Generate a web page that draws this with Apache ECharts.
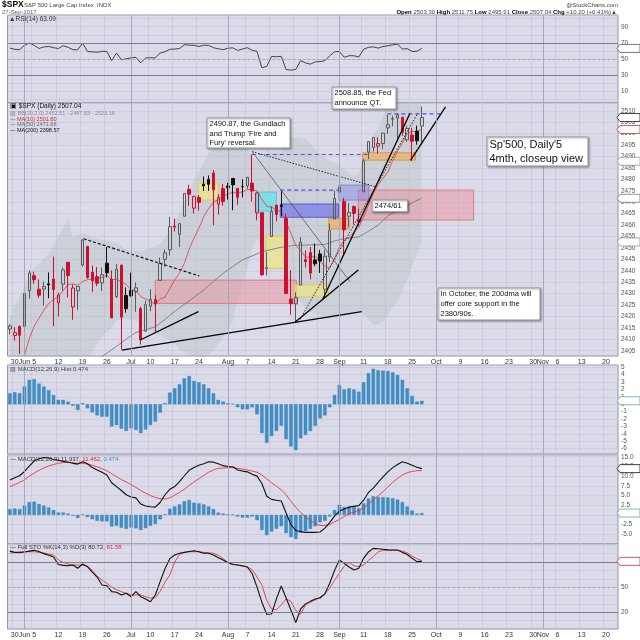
<!DOCTYPE html>
<html>
<head>
<meta charset="utf-8">
<script src="https://cdn.jsdelivr.net/npm/echarts@6/dist/echarts.min.js"></script>
<style>
html,body{margin:0;padding:0;background:#ffffff;}
#chart{width:640px;height:640px;}
</style>
</head>
<body>
<div id="chart"></div>
<script>
// ---------------- DATA ----------------
const dates = ['05-26','05-30','05-31',
 '06-01','06-02','06-05','06-06','06-07','06-08','06-09','06-12','06-13','06-14','06-15','06-16','06-19','06-20','06-21','06-22','06-23','06-26','06-27','06-28','06-29','06-30',
 '07-03','07-05','07-06','07-07','07-10','07-11','07-12','07-13','07-14','07-17','07-18','07-19','07-20','07-21','07-24','07-25','07-26','07-27','07-28','07-31',
 '08-01','08-02','08-03','08-04','08-07','08-08','08-09','08-10','08-11','08-14','08-15','08-16','08-17','08-18','08-21','08-22','08-23','08-24','08-25','08-28','08-29','08-30','08-31',
 '09-01','09-05','09-06','09-07','09-08','09-11','09-12','09-13','09-14','09-15','09-18','09-19','09-20','09-21','09-22','09-25','09-26','09-27','09-28','09-29',
 '10-02','10-03','10-04','10-05','10-06','10-09','10-10','10-11','10-12','10-13','10-16','10-17','10-18','10-19','10-20','10-23','10-24','10-25','10-26','10-27','10-30','10-31',
 '11-01','11-02','11-03','11-06','11-07','11-08','11-09','11-10','11-13','11-14','11-15','11-16','11-17','11-20','11-21','11-22'];

const tickLabels = [['05-30','30'],['06-01','Jun'],['06-05','5'],['06-12','12'],['06-19','19'],['06-26','26'],
 ['07-03','Jul'],['07-10','10'],['07-17','17'],['07-24','24'],['08-01','Aug'],['08-07','7'],['08-14','14'],['08-21','21'],['08-28','28'],
 ['09-01','Sep'],['09-11','11'],['09-18','18'],['09-25','25'],['10-02','Oct'],['10-09','9'],['10-16','16'],['10-23','23'],['10-30','30'],
 ['11-01','Nov'],['11-06','6'],['11-13','13'],['11-20','20']];
const monthStarts = ['06-01','07-03','08-01','09-01','10-02','11-01'];

const prevClose0 = 2415.07;
const opens = [2414.50,2411.67,2415.63,
 2415.65,2431.28,2437.83,2431.92,2432.03,2434.27,2436.39,2425.88,2434.15,2443.75,2424.14,2431.24,2442.55,2450.66,2439.31,2437.40,2434.65,2443.32,2436.34,2428.70,2442.38,2429.20,
 2431.39,2430.78,2423.44,2413.52,2424.51,2427.35,2435.75,2444.99,2449.16,2459.50,2455.88,2463.85,2475.56,2467.40,2472.04,2477.88,2479.97,2482.76,2469.12,2475.94,
 2477.10,2480.38,2476.03,2476.88,2477.14,2478.35,2465.35,2465.38,2441.04,2454.96,2468.66,2468.63,2462.95,2427.64,2425.50,2433.75,2444.88,2447.91,2444.72,2447.35,2431.94,2446.06,2462.65,
 2474.42,2470.35,2463.83,2468.06,2462.25,2474.52,2491.94,2493.89,2494.56,2495.67,2502.51,2506.29,2506.84,2507.16,2497.26,2499.39,2501.04,2503.30];
const highs = [2416.68,2415.26,2415.99,
 2430.06,2440.23,2439.55,2436.21,2435.28,2439.27,2446.20,2430.38,2441.49,2443.75,2433.95,2433.15,2453.82,2450.66,2442.23,2441.62,2441.40,2450.42,2440.15,2442.97,2442.73,2432.71,
 2439.17,2434.90,2424.28,2426.92,2432.00,2429.30,2445.76,2449.32,2463.54,2462.82,2460.92,2473.83,2477.62,2472.54,2473.10,2481.24,2481.69,2484.04,2473.53,2477.96,
 2478.51,2480.38,2476.03,2480.00,2480.95,2490.87,2474.41,2465.38,2448.09,2468.22,2468.90,2474.93,2465.02,2440.27,2430.58,2454.77,2448.91,2450.39,2451.95,2449.12,2449.19,2460.61,2475.01,
 2480.38,2471.97,2469.64,2468.62,2467.11,2488.95,2496.77,2498.37,2498.43,2500.23,2508.32,2507.84,2508.85,2507.16,2503.47,2502.54,2503.51,2511.75];
const lows = [2412.20,2409.43,2403.59,
 2413.54,2427.71,2434.32,2428.12,2424.75,2427.94,2415.70,2419.97,2431.28,2428.34,2418.53,2422.88,2441.79,2436.60,2430.74,2433.27,2431.11,2437.03,2419.38,2428.02,2405.70,2421.65,
 2428.69,2422.05,2407.70,2413.52,2422.27,2412.79,2435.75,2441.69,2446.69,2457.16,2450.34,2463.85,2468.43,2465.06,2466.32,2474.91,2474.94,2459.93,2464.66,2468.53,
 2471.14,2466.48,2468.85,2472.08,2475.88,2470.32,2462.08,2437.75,2437.85,2454.96,2461.61,2463.86,2430.01,2420.69,2417.35,2433.67,2441.42,2436.19,2441.96,2439.03,2428.20,2443.77,2462.65,
 2473.85,2446.55,2459.20,2460.29,2459.40,2474.52,2488.87,2492.14,2491.35,2493.16,2499.92,2503.19,2496.67,2499.00,2496.54,2488.03,2495.12,2495.91];
const closes = [2415.82,2412.91,2411.80,
 2430.06,2439.07,2436.10,2429.33,2433.14,2433.79,2431.77,2429.39,2440.35,2437.92,2432.46,2433.15,2453.46,2437.03,2435.61,2434.50,2438.30,2439.07,2419.38,2440.69,2419.70,2423.41,
 2429.01,2432.54,2409.75,2425.18,2427.43,2425.53,2443.25,2447.83,2459.27,2459.14,2460.61,2473.83,2473.45,2472.54,2469.91,2477.13,2477.83,2475.42,2472.10,2470.30,
 2476.35,2477.57,2472.16,2476.83,2480.91,2474.92,2474.02,2438.21,2441.32,2465.84,2464.61,2468.11,2430.01,2425.55,2428.37,2452.51,2444.04,2438.97,2443.05,2444.24,2446.30,2457.59,2471.65,
 2476.55,2457.85,2465.54,2465.10,2461.43,2488.11,2496.48,2498.37,2495.62,2500.23,2503.87,2506.65,2508.24,2500.60,2502.22,2496.66,2496.84,2507.04];

const ma10 = [2393.5,2394.6,2395.7,2403.0,2410.3,2415.7,2419.2,2422.7,2425.7,2427.4,
 2428.7,2431.4,2434.0,2434.2,2433.6,2435.3,2436.1,2436.4,2436.5,2437.1,
 2438.1,2436.0,2436.3,2435.1,2434.1,2431.7,2431.3,2428.7,2427.7,2426.6,
 2425.3,2427.7,2428.4,2432.3,2435.9,2439.1,2443.2,2449.5,2454.3,2458.6,
 2463.7,2467.2,2469.9,2471.2,2472.3,2473.8,2474.2,2474.1,2474.5,2475.6,
 2475.4,2475.0,2471.3,2468.2,2467.8,2466.7,2465.7,2461.5,2456.4,2451.1,
 2448.9,2445.9,2446.0,2446.2,2444.0,2442.1,2441.1,2445.3,2450.4,2453.4,
 2454.7,2456.8,2459.0,2463.5,2468.7,2473.9,2477.7,2480.5,2483.2,2488.1,
 2492.3,2495.9,2500.0,2500.9,2501.0,2501.8];
const ma50 = [2385,2386,2387,2388,2389,2390,2391,2392,2393,2394,
 2395,2396,2396.8,2397.6,2398.4,2399.2,2400,2400.8,2401.6,2402.4,
 2403.9,2405.4,2406.9,2408.5,2410,2411.6,2413,2413.6,2414.2,2414.8,
 2415.5,2417,2418.7,2420.5,2422.2,2423.8,2425.3,2426.8,2428.4,2430,
 2431.6,2433.5,2435.3,2437.1,2438.9,2440.4,2441.8,2443.3,2444.7,2445.6,
 2446.5,2447.4,2448.3,2448.8,2449.3,2449.8,2450.3,2450.6,2450.9,2451.2,
 2451.2,2451.2,2451.3,2451.3,2451.4,2451.5,2452.3,2453,2453.6,2454,
 2454.3,2454.5,2454.9,2456,2457.3,2458.6,2460,2462,2464,2465.2,
 2466.3,2467.5,2468.6,2469.7,2470.8,2471.7];
const bbUpper = [2419.6,2424.8,2427.9,2433.0,2438.5,2441.3,2442.8,2445.6,2447.3,2451.2,
 2455.1,2459.0,2462.9,2454.6,2456.0,2456.5,2455.7,2454.6,2454.1,2453.3,
 2453.4,2452.7,2452.2,2450.7,2448.9,2448.5,2448.7,2448.6,2449.1,2449.9,
 2450.7,2451.9,2454.4,2457.7,2462.0,2465.4,2470.3,2475.1,2480.0,2483.6,
 2487.5,2491.5,2493.2,2495.8,2497.1,2498.5,2499.7,2495.8,2494.4,2493.1,
 2489.6,2488.1,2490.6,2492.3,2492.1,2492.3,2492.0,2495.8,2498.5,2498.4,
 2498.2,2497.5,2495.7,2493.2,2490.9,2489.4,2487.9,2487.4,2486.4,2484.3,
 2482.8,2481.4,2482.5,2488.9,2494.4,2499.4,2502.4,2507.9,2512.8,2517.8,
 2520.5,2521.4,2522.5,2522.2,2522.9,2523.2];
const bbLower = [2367.6,2364.8,2363.9,2363.0,2362.5,2363.3,2364.8,2365.6,2367.3,2367.2,
 2367.1,2367.0,2366.9,2382.6,2388.0,2394.5,2399.7,2404.6,2408.1,2411.3,
 2413.4,2414.7,2418.2,2418.7,2418.9,2418.5,2418.7,2416.6,2415.1,2413.9,
 2412.7,2411.9,2410.4,2409.7,2408.0,2405.4,2404.3,2403.1,2402.0,2401.6,
 2401.5,2403.5,2405.2,2407.8,2411.1,2414.5,2417.7,2427.8,2434.4,2441.1,
 2449.6,2454.1,2450.6,2447.1,2448.1,2448.3,2448.0,2439.8,2432.5,2428.4,
 2426.2,2423.5,2421.7,2421.2,2420.9,2419.4,2418.9,2419.4,2420.4,2420.3,
 2420.8,2421.4,2422.5,2420.9,2418.4,2416.6,2416.4,2417.9,2420.8,2423.8,
 2426.5,2431.4,2436.5,2442.2,2446.9,2452.6];

const rsi = [63.5,62,61.5,67,69.7,67,63,65,65.5,64,
 63,66.4,64.5,61.5,61.5,69.7,59.4,58.8,58.4,59.5,
 59.4,48,57.4,49.2,50.1,51.5,52.1,45.2,51.3,51.6,
 51.3,57.4,59,62,62.3,63,67.6,67.2,66.9,65.5,
 67,66.8,64,62.7,61.5,63.4,63.8,60.6,62.4,64,
 60.8,59.4,39,41,53.3,52.8,53.3,37,36.2,37,
 48,45.2,43.6,46.4,46.8,48,54,59,59.4,52.1,
 54.1,54,52.5,62,64.5,65,63.5,65.5,66.4,67.5,
 68.4,62.3,62.8,59.4,59.5,63.09];

const macd = [9.0,9.6,10.1,11.2,12.6,13.9,14.5,14.8,14.7,14.3,
 14.1,13.8,13.6,13.3,13.1,13.7,13.2,12.2,11.6,11.0,
 10.3,8.3,7.3,6.3,5.2,4.6,4.4,2.8,2.3,2.1,
 2.0,3.2,5.2,6.6,7.3,8.6,10.1,11.5,12.2,12.8,
 13.2,13.7,13.6,13.2,12.7,12.5,12.4,11.6,11.3,11.1,
 10.5,10.0,8.1,4.8,4.0,3.8,3.6,0.5,-2.5,-4.0,
 -4.3,-4.5,-4.5,-4.5,-4.4,-3.4,-2.0,-0.3,1.0,1.5,
 2.0,2.2,2.4,3.8,5.8,6.9,8.4,9.8,11.1,12.2,
 13.0,13.7,13.3,12.8,12.3,11.937];
const macdSignal = [7.3,7.8,8.4,9.0,10.0,10.8,11.5,12.1,12.6,13.0,
 13.3,13.5,13.6,13.5,13.3,13.3,13.1,12.8,12.4,11.9,
 11.4,10.6,9.9,9.1,8.5,7.8,7.1,6.3,5.6,5.0,
 4.5,4.2,4.1,4.4,5.1,5.8,6.6,7.6,8.5,9.3,
 10.2,11.0,11.6,12.0,12.1,12.2,12.2,12.0,11.8,11.6,
 11.3,11.0,10.3,9.3,8.3,7.4,6.5,5.2,3.5,2.0,
 0.6,-0.5,-1.5,-2.2,-2.7,-2.7,-2.5,-1.8,-1.2,-0.4,
 0.3,0.7,1.2,1.8,2.8,3.9,4.9,6.0,7.2,8.4,
 9.4,10.3,10.9,11.2,11.4,11.462];
const macdHist = [1.49,1.62,1.5,2.4,3.3,3.4,2.8,2.4,1.9,1.26,
 0.6,0.6,0.36,-0.2,-0.77,0.14,-0.54,-1.1,-1.5,-1.67,
 -1.67,-3.0,-2.8,-3.3,-3.6,-3.24,-3.47,-3.9,-3.4,-2.8,
 -2.34,-1.13,0.14,1.58,2.16,2.7,3.5,3.83,3.15,2.97,
 2.7,2.16,1.49,0.6,0.36,0.14,0.05,-0.4,-0.68,-0.68,
 -0.4,-1.35,-3.9,-5.2,-4.3,-3.6,-2.9,-4.7,-5.7,-6.2,
 -4.6,-4.14,-3.6,-2.9,-1.9,-1.5,-0.4,1.26,2.6,2.0,
 2.16,2.0,1.7,2.97,4.2,4.8,4.6,4.55,4.5,4.3,
 3.96,3.3,2.16,1.13,0.36,0.474];

const stoK = [93,91.5,91,92,93,94,92.5,90,88,86,
 77,76,75.6,76.4,72.5,77.6,74.4,68,62,52.6,
 51.7,44.6,43.8,40.6,42.6,38.6,44.6,38.6,35.8,32.6,
 40.6,56.6,72,84,88.4,90.4,91.5,92.5,93.5,92.3,
 90.4,90.4,88.4,85,82.4,79,77,76.4,75.5,74,
 66,50,32,17.6,18,36,51.4,37,22.7,7.6,
 23.9,30,33,35.8,37,42,54.6,70,82.4,78.4,
 74,70.5,72.5,84.4,92,96.3,95.8,95.3,94.5,94.3,
 94.3,91.5,89,84.4,80.4,80.72];
const stoD = [90.4,91.5,92.3,92.3,92.3,92.3,91.5,90.8,89.5,88.4,
 82.4,79.6,77.5,76.4,76.4,76.4,75,70,63,58.5,
 54.6,50,47,44.6,42.6,40.6,40.6,40.6,38.6,36.7,
 37.5,45,56,64.5,80,89,91.5,92.3,92.3,92.3,
 91.5,91,90.4,88,84,79.6,77.5,76.4,75,74,
 71,62,52.6,34,24,23,28.7,36,33,22,
 17.6,28.7,32,34.6,38,42,48.6,58,66.5,75,
 79.6,75.5,74.4,76.4,82,86.3,92,94,94,94,
 94,93,91,87,84,81.58];

// annotation zones: [fromIndex, toIndex, topPrice, bottomPrice, kind]
const zones = [
 [30, 59.1, 2435.9, 2425.7, 'pink'],
 [71.9, 95.7, 2475.3, 2462.2, 'pink'],
 [38.9, 43, 2478.4, 2470.9, 'yellow'],
 [50.8, 55, 2474.4, 2466.1, 'cyan'],
 [52.9, 56.8, 2455.2, 2441.0, 'yellow'],
 [55.8, 67.8, 2469.2, 2463.4, 'blue'],
 [67.9, 74.1, 2477.5, 2470.9, 'lightblue'],
 [65.8, 70, 2462.9, 2458.3, 'orange'],
 [72.8, 83.7, 2491.6, 2488.4, 'orange'],
 [58.7, 65.7, 2433.8, 2428.6, 'yellow']
];
// trend lines: [i1, p1, i2, p2, kind]
const trendLines = [
 [15.2, 2454.0, 39.1, 2437.7, 'dash'],
 [50, 2492.1, 75.4, 2476.8, 'dot'],
 [50, 2492.1, 70.2, 2435.2, 'thin'],
 [23.1, 2405.3, 72.6, 2422.1, 'solid'],
 [26.9, 2409.7, 38.9, 2422.1, 'solid'],
 [58.9, 2417.6, 71.9, 2440.3, 'solid'],
 [64.5, 2427.2, 82.6, 2509.0, 'solid'],
 [59.9, 2418.8, 84.2, 2509.0, 'dot'],
 [82.7, 2488.4, 89.9, 2511.7, 'solid'],
 [49.9, 2490.87, 74.0, 2490.87, 'bluedash'],
 [55.8, 2475.3, 67.8, 2475.3, 'bluedash'],
 [77.9, 2508.6, 88.9, 2508.6, 'bluedash']
];

// ---------------- STYLE ----------------
const FONT = 'Liberation Sans, Arial, sans-serif';
const BG = '#dadae8';
const GL = '#c6c6d8';
const BORDER = '#9494aa';
const RED = '#cc1030';
const BLACK = '#111111';
const ZONE_STYLE = {
  pink: {fill: 'rgba(236,140,150,0.45)', stroke: 'rgba(222,110,120,0.85)'},
  yellow: {fill: 'rgba(242,232,120,0.62)', stroke: 'rgba(222,205,70,0.9)'},
  cyan: {fill: 'rgba(110,222,232,0.8)', stroke: 'rgba(80,200,215,0.9)'},
  blue: {fill: 'rgba(105,105,232,0.62)', stroke: 'rgba(80,80,215,0.9)'},
  lightblue: {fill: 'rgba(130,130,235,0.45)', stroke: 'rgba(110,110,225,0.7)'},
  orange: {fill: 'rgba(240,170,80,0.55)', stroke: 'rgba(225,145,45,0.9)'}
};
const LINE_STYLE = {
  dash: {stroke: '#111', lineWidth: 1.2, lineDash: [3, 2]},
  dot: {stroke: '#222', lineWidth: 1, lineDash: [1.5, 1.5]},
  thin: {stroke: '#444', lineWidth: 0.7},
  solid: {stroke: '#000', lineWidth: 1.3},
  bluedash: {stroke: '#4f4fe6', lineWidth: 1.2, lineDash: [4, 3]}
};

const tickMap = Object.fromEntries(tickLabels);
const isTick = (idx, val) => tickMap[dates[idx]] !== undefined;
const isMinorTick = (idx, val) => tickMap[dates[idx]] !== undefined && monthStarts.indexOf(dates[idx]) < 0;

const candleData = opens.map((o, i) => {
  const c = closes[i];
  const prev = i === 0 ? prevClose0 : closes[i - 1];
  const col = c < prev ? RED : BLACK;
  const hollow = c > o;
  const fill = hollow ? 'rgba(0,0,0,0)' : col;
  const edge = hollow && col === BLACK ? '#5a5a5a' : col;
  return {value: [o, c, lows[i], highs[i]],
    itemStyle: {color: fill, color0: fill, borderColor: edge, borderColor0: edge, borderWidth: 1}};
});
const bbRange = bbUpper.map((u, i) => +(u - bbLower[i]).toFixed(2));

const L = 7.5, W = 610.5;
const grids = [
  {top: 15, height: 88},
  {top: 103, height: 253},
  {top: 365, height: 89},
  {top: 454.8, height: 89.2},
  {top: 544, height: 85}
].map(g => Object.assign({left: L, width: W, show: true, backgroundColor: BG, borderColor: BORDER, borderWidth: 1, containLabel: false, outerBoundsMode: 'none'}, g));

const xAxes = grids.map((g, k) => ({
  type: 'category', gridIndex: k, data: dates, boundaryGap: true,
  axisLine: {show: false}, axisTick: {show: false},
  axisLabel: {show: k === 1 || k === 4, interval: isTick, formatter: v => tickMap[v] || '',
    fontSize: 7, fontFamily: FONT, color: '#333', margin: 2.5, hideOverlap: false},
  splitLine: {show: true, interval: isMinorTick, lineStyle: {color: GL, width: 0.7}}
}));

const yLabel = {fontSize: 6.5, fontFamily: FONT, color: '#555', margin: 3, showMinLabel: false, showMaxLabel: false};
const ySplit = {show: true, lineStyle: {color: GL, width: 0.6}};
const yAxes = [
  {gridIndex: 0, position: 'right', min: -4.5, max: 104.5, splitNumber: 11,
   axisLabel: Object.assign({}, yLabel, {formatter: v => [10,30,50,70,90].indexOf(Math.round(v)) >= 0 ? String(Math.round(v)) : ''})},
  {gridIndex: 1, position: 'right', min: 2402.7, max: 2513.4, splitNumber: 22,
   axisLabel: Object.assign({}, yLabel, {formatter: v => String(Math.round(v))})},
  {gridIndex: 2, position: 'right', min: -6.72, max: 5.31, splitNumber: 12,
   axisLabel: Object.assign({}, yLabel, {formatter: v => String(Math.round(v))})},
  {gridIndex: 3, position: 'right', min: -7.5, max: 15.5, interval: 2.5,
   axisLabel: Object.assign({}, yLabel, {formatter: v => (Math.round(v * 10) / 10).toFixed(1)})},
  {gridIndex: 4, position: 'right', min: 0, max: 101.5, splitNumber: 10,
   axisLabel: Object.assign({}, yLabel, {formatter: v => [20,50].indexOf(Math.round(v)) >= 0 ? String(Math.round(v)) : ''})}
].map(a => Object.assign({type: 'value', scale: true, axisLine: {show: false}, axisTick: {show: false}, splitLine: ySplit}, a));

const monthLines = monthStarts.map(d => ({xAxis: d, lineStyle: {color: '#a4a4b8', width: 0.9, type: 'solid'}}));
const mlBase = {silent: true, symbol: ['none', 'none'], label: {show: false}, animation: false};

function bandX(api, i) {
  const i0 = Math.floor(i);
  const base = api.coord([i0, 2450])[0];
  const bw = api.size([1, 0])[0];
  return base + (i - i0) * bw;
}

const series = [
  // RSI
  {type: 'line', xAxisIndex: 0, yAxisIndex: 0, data: rsi, symbol: 'none', z: 3,
   lineStyle: {color: '#333', width: 0.9},
   markLine: Object.assign({}, mlBase, {data: monthLines.concat([
     {yAxis: 70, lineStyle: {color: '#7c7c90', width: 1, type: 'solid'}},
     {yAxis: 30, lineStyle: {color: '#7c7c90', width: 1, type: 'solid'}},
     {yAxis: 50, lineStyle: {color: '#9a9aaa', width: 0.8, type: [3, 2]}}])})},
  // Bollinger band
  {type: 'line', xAxisIndex: 1, yAxisIndex: 1, data: bbLower, stack: 'bb', symbol: 'none', lineStyle: {opacity: 0}, z: 1, silent: true},
  {type: 'line', xAxisIndex: 1, yAxisIndex: 1, data: bbRange, stack: 'bb', symbol: 'none', lineStyle: {opacity: 0}, z: 1, silent: true,
   areaStyle: {color: 'rgba(160,180,170,0.33)'}},
  // zones
  {type: 'custom', xAxisIndex: 1, yAxisIndex: 1, z: 1, silent: true, clip: true,
   data: zones.map(z => [Math.floor(z[0]), z[2]]),
   renderItem: (params, api) => {
     const z = zones[params.dataIndex];
     const x1 = bandX(api, z[0]), x2 = bandX(api, z[1]);
     const y1 = api.coord([0, z[2]])[1], y2 = api.coord([0, z[3]])[1];
     const st = ZONE_STYLE[z[4]];
     return {type: 'rect', shape: {x: x1, y: y1, width: x2 - x1, height: y2 - y1},
       style: {fill: st.fill, stroke: st.stroke, lineWidth: 1}};
   }},
  // moving averages
  {type: 'line', xAxisIndex: 1, yAxisIndex: 1, data: ma50, symbol: 'none', z: 2, lineStyle: {color: '#6e6e6e', width: 0.8}},
  {type: 'line', xAxisIndex: 1, yAxisIndex: 1, data: ma10, symbol: 'none', z: 2, lineStyle: {color: '#dd3b3b', width: 0.8}},
  // candles
  {type: 'candlestick', xAxisIndex: 1, yAxisIndex: 1, data: candleData, barWidth: 3, z: 3,
   markLine: Object.assign({}, mlBase, {data: monthLines})},
  // trend lines
  {type: 'custom', xAxisIndex: 1, yAxisIndex: 1, z: 4, silent: true, clip: true,
   data: trendLines.map(l => [Math.floor(l[0]), l[1]]),
   renderItem: (params, api) => {
     const l = trendLines[params.dataIndex];
     const st = LINE_STYLE[l[4]];
     return {type: 'line', shape: {x1: bandX(api, l[0]), y1: api.coord([0, l[1]])[1], x2: bandX(api, l[2]), y2: api.coord([0, l[3]])[1]},
       style: Object.assign({fill: null}, st)};
   }},
  // MACD histogram panel
  {type: 'bar', xAxisIndex: 2, yAxisIndex: 2, data: macdHist, barWidth: 3.4, z: 2,
   itemStyle: {color: '#3f90c8', borderColor: '#2f78ae', borderWidth: 0.4},
   markLine: Object.assign({}, mlBase, {data: monthLines})},
  // MACD lines panel
  {type: 'bar', xAxisIndex: 3, yAxisIndex: 3, data: macdHist, barWidth: 3.4, z: 2,
   itemStyle: {color: '#3f90c8', borderColor: '#2f78ae', borderWidth: 0.4}},
  {type: 'line', xAxisIndex: 3, yAxisIndex: 3, data: macdSignal, symbol: 'none', z: 3, lineStyle: {color: '#e23a3a', width: 0.9}},
  {type: 'line', xAxisIndex: 3, yAxisIndex: 3, data: macd, symbol: 'none', z: 4, lineStyle: {color: '#111', width: 1.1},
   markLine: Object.assign({}, mlBase, {data: monthLines})},
  // Full stochastic
  {type: 'line', xAxisIndex: 4, yAxisIndex: 4, data: stoD, symbol: 'none', z: 3, lineStyle: {color: '#e23a3a', width: 0.9}},
  {type: 'line', xAxisIndex: 4, yAxisIndex: 4, data: stoK, symbol: 'none', z: 4, lineStyle: {color: '#111', width: 1.1},
   markLine: Object.assign({}, mlBase, {data: monthLines.concat([
     {yAxis: 80, lineStyle: {color: '#7c7c90', width: 1, type: 'solid'}},
     {yAxis: 20, lineStyle: {color: '#7c7c90', width: 1, type: 'solid'}},
     {yAxis: 50, lineStyle: {color: '#9a9aaa', width: 0.8, type: [3, 2]}}])})}
];

const chart = echarts.init(document.getElementById('chart'), null, {renderer: 'canvas', width: 640, height: 640});
chart.setOption({
  animation: false,
  backgroundColor: '#ffffff',
  grid: grids, xAxis: xAxes, yAxis: yAxes, series: series
});

// ---------------- TEXT / TAGS ----------------
function txt(x, y, text, opt) {
  return Object.assign({type: 'text', x: x, y: y, z: 20,
    style: Object.assign({text: text, fontSize: 6.5, fontFamily: FONT, fill: '#222',
      textAlign: 'left', align: 'left', textVerticalAlign: 'middle', verticalAlign: 'middle'}, opt || {})});
}
function tag(axis, value, text, stroke, color, bold) {
  const y = chart.convertToPixel({yAxisIndex: axis}, value);
  return {type: 'group', z: 30, children: [
    {type: 'polygon', z: 30, shape: {points: [[617, y], [620, y - 4], [640, y - 4], [640, y + 4], [620, y + 4]]},
     style: {fill: '#ffffff', stroke: stroke, lineWidth: 0.8}},
    txt(621, y, text, {fontSize: 6.5, fill: color, fontWeight: bold ? 'bold' : 'normal'})
  ]};
}
function box(x, y, w, h, lines, fs, lh) {
  return {type: 'group', z: 40, children: [
    {type: 'rect', z: 40, shape: {x: x, y: y, width: w, height: h},
     style: {fill: '#ffffff', stroke: '#9a9a9a', lineWidth: 1, shadowBlur: 2, shadowOffsetX: 1, shadowOffsetY: 1, shadowColor: 'rgba(0,0,0,0.35)'}},
    {type: 'text', z: 41, x: x + 2.5, y: y + 1.5,
     style: {text: lines.join('\n'), fontSize: fs, lineHeight: lh, fontFamily: FONT, fill: '#111',
       textAlign: 'left', align: 'left', textVerticalAlign: 'top', verticalAlign: 'top'}}
  ]};
}

const graphics = [
  txt(2, 5, '$SPX', {fontSize: 8.5, fontWeight: 'bold', fill: '#000'}),
  txt(24, 5, 'S&P 500 Large Cap Index  INDX', {fontSize: 6, fill: '#444'}),
  txt(2, 12, '27-Sep-2017', {fontSize: 6, fill: '#666'}),
  txt(618, 5, '@StockCharts.com', {fontSize: 6, fill: '#444', textAlign: 'right', align: 'right'}),
  txt(617, 12, '{b|Open} 2503.30 {b|High} 2511.75 {b|Low} 2495.91 {b|Close} 2507.04 {b|Chg} +10.20 (+0.41%)▲',
    {fontSize: 6, fill: '#444', textAlign: 'right', align: 'right', rich: {b: {fontWeight: 'bold', fill: '#000', fontSize: 6, fontFamily: FONT}}}),
  txt(9, 19, '▲RSI(14) 63.09', {fontSize: 6.5, fill: '#333'}),
  txt(10, 106.5, '▣ $SPX (Daily) 2507.04', {fontSize: 6.5, fill: '#111'}),
  txt(10, 113, '▨ BB(20,2.0) 2452.51 - 2487.83 - 2523.16', {fontSize: 5.5, fill: '#8a8a96'}),
  txt(10, 119, '— MA(10) 2501.80', {fontSize: 5.5, fill: '#d03030'}),
  txt(10, 124.5, '— MA(50) 2471.66', {fontSize: 5.5, fill: '#666'}),
  txt(10, 130, '— MA(200) 2398.57', {fontSize: 5.5, fill: '#111'}),
  txt(10, 369.5, '▥ MACD(12,26,9) Hist 0.474', {fontSize: 6, fill: '#444'}),
  txt(10, 459.5, '— MACD(12,26,9) 11.937, {r|11.462}, {bl|0.474}',
    {fontSize: 6, fill: '#333', rich: {r: {fill: '#e03030', fontSize: 6, fontFamily: FONT}, bl: {fill: '#3f90c8', fontSize: 6, fontFamily: FONT}}}),
  txt(10, 547.5, '— Full STO %K(14,3) %D(3) 80.72, {r|81.58}',
    {fontSize: 6, fill: '#333', rich: {r: {fill: '#e03030', fontSize: 6, fontFamily: FONT}}}),

  tag(0, rsi[85], '63.09', '#555', '#222', false),
  tag(1, closes[85], '2507.04', '#111', '#000', true),
  tag(1, ma10[85], '2501.80', '#d03030', '#c02020', false),
  tag(1, (bbUpper[85] + bbLower[85]) / 2, '2487.83', '#999', '#555', false),
  tag(1, ma50[85], '2471.66', '#777', '#444', false),
  tag(1, bbLower[85], '2452.51', '#999', '#555', false),
  tag(2, macdHist[85], '0.474', '#6a9ac0', '#335', false),
  tag(3, macd[85], '11.937', '#111', '#111', false),
  tag(3, macdHist[85], '0.474', '#6a9ac0', '#335', false),
  tag(4, stoK[85], '80.72', '#d03030', '#222', false),

  box(207, 118, 83, 30, ['2490.87, the Gundlach', "and Trump 'Fire and", "Fury' reversal."], 7.5, 9.3),
  box(332, 87, 64, 22, ['2508.85, the Fed', 'announce QT.'], 7.5, 9.3),
  box(487, 137, 101, 29, ["Sp'500, Daily'5", '4mth, closeup view'], 11, 13.5),
  box(372, 200, 35.5, 11.7, ['2474/61'], 7.5, 9),
  box(438, 288, 102, 32, ['In October, the 200dma will', 'offer core support in the', '2380/90s.'], 7.5, 9.6)
];
chart.setOption({graphic: graphics});
</script>
</body>
</html>
